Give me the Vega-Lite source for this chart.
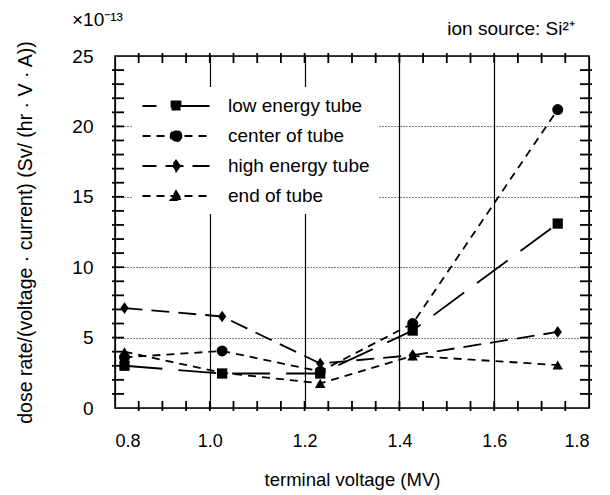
{
  "$schema": "https://vega.github.io/schema/vega-lite/v6.json",
  "width": 474,
  "height": 352,
  "autosize": "none",
  "padding": {"left": 115, "top": 56, "right": 21, "bottom": 87},
  "background": "white",
  "config": {
    "font": "Liberation Sans",
    "view": {"stroke": "black", "strokeWidth": 1.5},
    "axis": {"labelFont": "Liberation Sans", "titleFont": "Liberation Sans", "labelColor": "black", "titleColor": "black", "tickColor": "black", "titleFontWeight": "normal"}
  },
  "title": {"text": "×10⁻¹³", "anchor": "start", "frame": "group", "dx": -43, "offset": -10, "fontSize": 19, "fontWeight": "normal", "font": "Liberation Sans", "color": "black"},
  "datasets": {
    "pts": [
      {"series": "low energy tube", "v": 0.82, "d": 3.0},
      {"series": "low energy tube", "v": 1.026, "d": 2.45},
      {"series": "low energy tube", "v": 1.233, "d": 2.45},
      {"series": "low energy tube", "v": 1.428, "d": 5.5},
      {"series": "low energy tube", "v": 1.734, "d": 13.1},
      {"series": "center of tube", "v": 0.82, "d": 3.6},
      {"series": "center of tube", "v": 1.026, "d": 4.05},
      {"series": "center of tube", "v": 1.233, "d": 2.6},
      {"series": "center of tube", "v": 1.428, "d": 6.0},
      {"series": "center of tube", "v": 1.734, "d": 21.2},
      {"series": "high energy tube", "v": 0.82, "d": 7.1},
      {"series": "high energy tube", "v": 1.026, "d": 6.5},
      {"series": "high energy tube", "v": 1.233, "d": 3.16},
      {"series": "high energy tube", "v": 1.428, "d": 3.75},
      {"series": "high energy tube", "v": 1.734, "d": 5.4},
      {"series": "end of tube", "v": 0.82, "d": 4.0},
      {"series": "end of tube", "v": 1.026, "d": 2.5},
      {"series": "end of tube", "v": 1.233, "d": 1.75},
      {"series": "end of tube", "v": 1.428, "d": 3.7},
      {"series": "end of tube", "v": 1.734, "d": 3.05}
    ],
    "xt": [{"t": 0.85}, {"t": 0.9}, {"t": 0.95}, {"t": 1.0}, {"t": 1.05}, {"t": 1.1}, {"t": 1.15}, {"t": 1.2}, {"t": 1.25}, {"t": 1.3}, {"t": 1.35}, {"t": 1.4}, {"t": 1.45}, {"t": 1.5}, {"t": 1.55}, {"t": 1.6}, {"t": 1.65}, {"t": 1.7}, {"t": 1.75}],
    "yt": [{"t": 1}, {"t": 2}, {"t": 3}, {"t": 4}, {"t": 5}, {"t": 6}, {"t": 7}, {"t": 8}, {"t": 9}, {"t": 10}, {"t": 11}, {"t": 12}, {"t": 13}, {"t": 14}, {"t": 15}, {"t": 16}, {"t": 17}, {"t": 18}, {"t": 19}, {"t": 20}, {"t": 21}, {"t": 22}, {"t": 23}, {"t": 24}]
  },
  "data": {"name": "pts"},
  "resolve": {"axis": {"x": "independent", "y": "independent"}},
  "layer": [
    {
      "mark": {"type": "line", "color": "black", "strokeWidth": 1.8},
      "encoding": {
        "x": {"field": "v", "type": "quantitative", "scale": {"domain": [0.8, 1.8], "nice": false, "zero": false},
          "axis": {"orient": "bottom", "title": "terminal voltage (MV)", "titleFontSize": 18.5, "titlePadding": 20,
            "values": [0.8, 1.0, 1.2, 1.4, 1.6, 1.8], "format": ".1f",
            "labelOverlap": false, "labelFontSize": 18, "labelPadding": 24, "domain": false,
            "ticks": false,
            "grid": true, "gridColor": "black", "gridWidth": 1.2}},
        "y": {"field": "d", "type": "quantitative", "scale": {"domain": [0, 25], "nice": false},
          "axis": {"orient": "left", "title": "dose rate/(voltage · current)  (Sv/ (hr · V · A))", "titleFontSize": 19.5, "titlePadding": 36,
            "values": [0, 5, 10, 15, 20, 25],
            "labelOverlap": false, "labelFontSize": 19, "labelPadding": 22, "domain": false,
            "ticks": false,
            "grid": true, "gridColor": "black", "gridWidth": 1, "gridDash": [1, 2]}},
        "detail": {"field": "series"},
        "strokeDash": {"field": "series", "type": "nominal",
          "scale": {"domain": ["low energy tube", "center of tube", "high energy tube", "end of tube"], "range": [[38, 16], [8, 6], [18, 9], [8, 6]]},
          "legend": {"orient": "none", "legendX": 18, "legendY": 31, "title": null, "fillColor": "white", "padding": 8,
            "labelFontSize": 19, "labelFont": "Liberation Sans", "labelColor": "black", "symbolSize": 400, "symbolStrokeWidth": 1.8,
            "symbolStrokeColor": "black", "labelOffset": 65, "rowPadding": 9,
            "encode": {"symbols": {"update": {
              "x": {"value": 35},
              "shape": {"signal": "datum.value === 'low energy tube' ? 'M-3.35,0L3.35,0M-0.45,-0.45L0.45,-0.45L0.45,0.45L-0.45,0.45Z' : datum.value === 'center of tube' ? 'M-3.35,0L3.35,0M0.55,0A0.55,0.55,0,1,1,-0.55,0A0.55,0.55,0,1,1,0.55,0Z' : datum.value === 'high energy tube' ? 'M-3.35,0L3.35,0M0,-0.55L0.4,0L0,0.55L-0.4,0Z' : 'M-3.35,0L3.35,0M0,-0.5L0.55,0.4L-0.55,0.4Z'"},
              "strokeDashOffset": {"signal": "datum.value === 'low energy tube' ? 24 : datum.value === 'high energy tube' ? 4 : 0"},
              "fill": {"value": "black"}, "stroke": {"value": "black"}}}}}}
      }
    },
    {
      "transform": [{"filter": "datum.series === 'low energy tube'"}],
      "mark": {"type": "point", "filled": true, "color": "black", "size": 105, "opacity": 1, "shape": "square"},
      "encoding": {
        "x": {"field": "v", "type": "quantitative", "axis": null},
        "y": {"field": "d", "type": "quantitative", "axis": null}
      }
    },
    {
      "transform": [{"filter": "datum.series === 'center of tube'"}],
      "mark": {"type": "point", "filled": true, "color": "black", "size": 120, "opacity": 1, "shape": "circle"},
      "encoding": {
        "x": {"field": "v", "type": "quantitative", "axis": null},
        "y": {"field": "d", "type": "quantitative", "axis": null}
      }
    },
    {
      "transform": [{"filter": "datum.series === 'high energy tube'"}],
      "mark": {"type": "point", "filled": true, "color": "black", "size": 95, "opacity": 1, "shape": "M0,-1.2L0.85,0L0,1.2L-0.85,0Z"},
      "encoding": {
        "x": {"field": "v", "type": "quantitative", "axis": null},
        "y": {"field": "d", "type": "quantitative", "axis": null}
      }
    },
    {
      "transform": [{"filter": "datum.series === 'end of tube'"}],
      "mark": {"type": "point", "filled": true, "color": "black", "size": 110, "opacity": 1, "shape": "triangle-up"},
      "encoding": {
        "x": {"field": "v", "type": "quantitative", "axis": null},
        "y": {"field": "d", "type": "quantitative", "axis": null}
      }
    },
    {
      "data": {"name": "xt"},
      "mark": {"type": "tick", "color": "black", "opacity": 1, "thickness": 1.8, "size": 10, "orient": "vertical", "yOffset": -2},
      "encoding": {
        "x": {"field": "t", "type": "quantitative", "axis": null},
        "y": {"datum": 0, "type": "quantitative", "axis": null}
      }
    },
    {
      "data": {"name": "xt"},
      "mark": {"type": "tick", "color": "black", "opacity": 1, "thickness": 1.8, "size": 10, "orient": "vertical", "yOffset": 2},
      "encoding": {
        "x": {"field": "t", "type": "quantitative", "axis": null},
        "y": {"datum": 25, "type": "quantitative", "axis": null}
      }
    },
    {
      "data": {"name": "yt"},
      "mark": {"type": "tick", "color": "black", "opacity": 1, "thickness": 1.8, "size": 12, "orient": "horizontal", "xOffset": 3},
      "encoding": {
        "y": {"field": "t", "type": "quantitative", "axis": null},
        "x": {"datum": 0.8, "type": "quantitative", "axis": null}
      }
    },
    {
      "data": {"name": "yt"},
      "mark": {"type": "tick", "color": "black", "opacity": 1, "thickness": 1.8, "size": 12, "orient": "horizontal", "xOffset": -3},
      "encoding": {
        "y": {"field": "t", "type": "quantitative", "axis": null},
        "x": {"datum": 1.8, "type": "quantitative", "axis": null}
      }
    },
    {
      "data": {"values": [{"label": "ion source: Si²⁺"}]},
      "mark": {"type": "text", "align": "right", "baseline": "middle", "fontSize": 19, "font": "Liberation Sans", "color": "black"},
      "encoding": {
        "x": {"datum": 1.77, "type": "quantitative", "axis": null},
        "y": {"datum": 26.9, "type": "quantitative", "axis": null},
        "text": {"field": "label"}
      }
    }
  ]
}
